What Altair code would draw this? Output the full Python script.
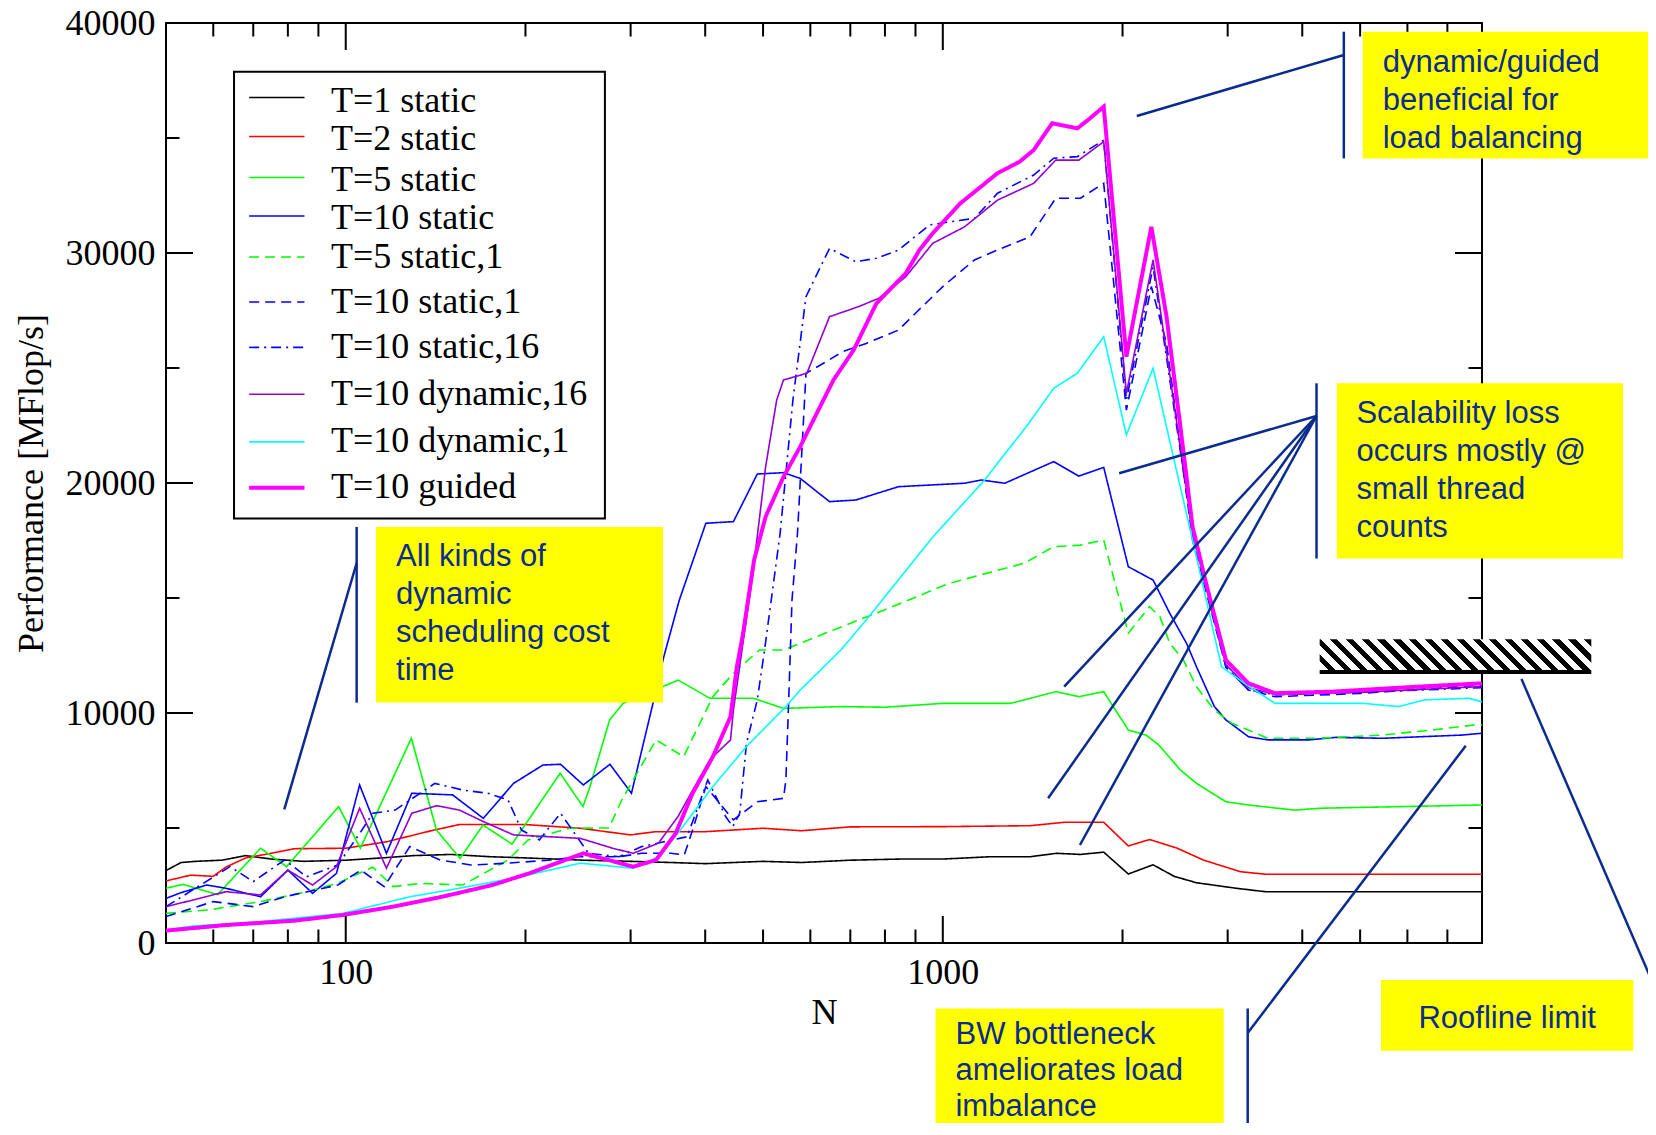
import altair as alt
import pandas as pd

# ---------------- data ----------------
SERIES = ["T=1 static", "T=2 static", "T=5 static", "T=10 static", "T=5 static,1",
          "T=10 static,1", "T=10 static,16", "T=10 dynamic,16", "T=10 dynamic,1", "T=10 guided"]
COLORS = ["#000000", "#ff0000", "#00ff00", "#0000ff", "#00ff00",
          "#0000ff", "#0000ff", "#9400d3", "#00ffff", "#ff00ff"]
DASHES = [[1, 0], [1, 0], [1, 0], [1, 0], [10, 6], [10, 6], [10, 5, 2, 5], [1, 0], [1, 0], [1, 0]]
THICK = "T=10 guided"

n_t1 = [50, 53, 56, 62, 68, 75, 85, 100, 115, 130, 150, 175, 200, 250, 300, 350, 400, 500, 580, 700,
        850, 1000, 1200, 1400, 1550, 1700, 1860, 2045, 2250, 2440, 2660, 3100, 3470, 8000]
p_t1 = [3150, 3500, 3550, 3600, 3800, 3650, 3550, 3600, 3700, 3800, 3850, 3750, 3700, 3600, 3550, 3500, 3450, 3550, 3500, 3600,
        3650, 3650, 3750, 3750, 3900, 3850, 3950, 3000, 3400, 2900, 2620, 2380, 2230, 2230]

n_t2 = [50, 55, 60, 63, 68, 75, 82, 100, 117, 140, 155, 175, 200, 247, 300, 330, 400, 500, 580, 700,
        1000, 1400, 1600, 1860, 2045, 2220, 2470, 2730, 3150, 3470, 8000]
p_t2 = [2700, 2950, 2900, 3300, 3700, 3900, 4100, 4120, 4400, 4900, 5150, 5150, 5150, 4990, 4700, 4840, 4840, 4990, 4880, 5050,
        5060, 5100, 5250, 5250, 4220, 4500, 4120, 3610, 3100, 2990, 2990]

n_t5 = [50, 53.4, 61, 72, 79.6, 97.3, 105.8, 128.8, 141.9, 155.4, 169.8, 189.9, 228.6, 249.7, 256.5, 276.7, 291.5, 360.5, 407, 482,
        541, 675, 800, 1000, 1300, 1546, 1690, 1860, 2045, 2190, 2300, 2500, 2660, 2980, 3250, 3880, 4300, 7000, 8000]
p_t5 = [2380, 2550, 2100, 4120, 3320, 5930, 4120, 8900, 4910, 3680, 5130, 4300, 7380, 5930, 6800, 9700, 10420, 11430, 10640, 10640,
        10200, 10280, 10250, 10420, 10420, 10930, 10710, 10930, 9260, 9040, 8610, 7520, 6940, 6140, 6000, 5780, 5860, 5970, 6000]

n_t10 = [50, 53, 58.5, 63, 72, 80, 88, 96.5, 105.5, 117, 129, 151, 170, 191, 214, 229, 250, 277, 301, 328,
         341, 362, 401, 446, 489, 541, 577, 646, 715, 843, 1088, 1160, 1270, 1534, 1690, 1860, 2045, 2250, 2280, 2400,
         2560, 2660, 2850, 2980, 3250, 3500, 4100, 4550, 5450, 7400, 8000]
p_t10 = [1940, 2190, 2520, 2380, 2010, 3170, 2160, 3030, 6870, 3900, 6510, 6440, 5420, 6940, 7740, 7770, 6870, 7770, 6510, 10560,
         12450, 14910, 18250, 18320, 20390, 20450, 20200, 19190, 19260, 19840, 19990, 20130, 19990, 20930, 20300, 20680, 16360, 15780, 15490, 14330,
         13030, 12010, 10280, 9700, 8970, 8830, 8830, 8940, 8900, 9040, 9120]

n_t5s1 = [50, 59, 72, 86, 97, 111, 120, 133, 157, 187, 202, 237, 276, 290, 331, 368, 412, 446, 493, 541,
          656, 798, 1026, 1368, 1534, 1700, 1860, 2045, 2220, 2310, 2400, 2530, 2660, 2850, 3050, 3250, 3500, 4230, 5450, 6600,
          7770, 8000]
p_t5s1 = [1290, 1440, 1800, 2230, 2600, 3300, 2450, 2590, 2520, 3610, 4480, 4990, 5000, 6220, 8830, 8100, 10710, 11730, 12740, 12740,
          13610, 14480, 15640, 16510, 17230, 17300, 17520, 13470, 14620, 14190, 13030, 12300, 11140, 10130, 9550, 9260, 8900, 8900, 9040, 9260,
          9480, 9480]

n_t10s1 = [50, 60, 70, 79, 97, 106, 116, 128, 144, 162, 187, 221, 245, 287, 313, 350, 369, 381, 401, 446,
           489, 541, 546, 552, 559, 571, 590, 624, 680, 744, 843, 900, 1000, 1130, 1235, 1400, 1546, 1700, 1860, 2030,
           2235, 2370, 2620, 2980, 3250, 3600, 5000, 8000]
p_t10s1 = [1150, 1800, 1580, 2010, 2520, 3170, 2450, 4190, 3610, 3390, 3470, 3610, 3750, 3750, 3900, 3900, 3830, 4910, 6800, 5350,
           6140, 6290, 7090, 10570, 14910, 17810, 24770, 25130, 25710, 26070, 26650, 27380, 28540, 29700, 30130, 30710, 32380, 32380, 33030, 23170,
           28540, 26070, 17520, 12000, 11000, 10710, 10850, 11220]

n_t10s16 = [50, 64, 70, 79, 86, 97, 106, 111, 121, 141, 157, 173, 187, 197, 211, 229, 255, 287, 313, 373,
            404, 433, 445, 457, 469, 489, 502, 516, 534, 561, 590, 646, 715, 774, 843, 950, 1130, 1235, 1420, 1534,
            1680, 1860, 2030, 2250, 2620, 2980, 3250, 3600, 5000, 8000]
p_t10s16 = [1580, 3320, 2670, 3610, 2880, 3390, 4840, 5640, 5780, 6940, 6650, 6510, 6220, 4910, 4480, 5640, 3900, 3750, 4190, 4620,
            7090, 5490, 5060, 5640, 8680, 10570, 12600, 14910, 17810, 23610, 28100, 30200, 29620, 29770, 30130, 31220, 31510, 32600, 33390, 34120,
            34190, 34910, 23610, 29400, 17800, 12000, 11000, 10800, 10900, 11100]

n_t10d16 = [50, 55.5, 63, 72, 80, 88, 96.5, 105.5, 117, 129, 142, 155, 170, 191, 247, 280, 303, 334, 360, 407,
            441, 446, 480, 505, 527, 541, 592, 646, 723, 781, 867, 962, 1088, 1235, 1420, 1546, 1690, 1860, 2030, 2250,
            2620, 2980, 3250, 3600, 5000, 8000]
p_t10d16 = [1580, 1870, 2230, 2090, 3170, 2520, 3320, 5860, 3250, 5640, 5970, 5780, 5280, 4700, 4550, 4120, 3900, 4340, 5490, 7960,
            8830, 10130, 15930, 20710, 23610, 24480, 24770, 27230, 27670, 28030, 28970, 30420, 31140, 32300, 33030, 34040, 34040, 34840, 23900, 29700,
            17900, 12100, 11100, 10800, 10900, 11150]

n_t10d1 = [50, 55.5, 72, 99, 128, 155, 196, 247, 303, 334, 360, 412, 469, 546, 577, 675, 744, 962, 1175, 1235,
           1380, 1534, 1680, 1860, 2030, 2250, 2440, 2620, 2930, 3200, 3600, 5050, 5800, 6400, 7600, 8000]
p_t10d1 = [560, 740, 930, 1290, 2010, 2380, 2880, 3470, 3250, 3750, 4770, 6800, 8540, 10280, 11000, 12740, 14040, 17650, 20130, 20860,
           22450, 24120, 24770, 26360, 22090, 24990, 21000, 17520, 12010, 11290, 10420, 10420, 10280, 10570, 10640, 10490]

n_t10g = [50, 63, 82, 99, 120, 145, 176, 203, 250, 303, 331, 357, 381, 412, 441, 452, 463, 483, 505, 541,
          577, 615, 656, 709, 774, 867, 914, 962, 1070, 1235, 1345, 1420, 1525, 1680, 1750, 1860, 2030, 2235, 2370, 2500,
          2620, 2760, 2980, 3250, 3600, 4500, 6200, 8000]
p_t10g = [540, 780, 970, 1220, 1580, 2010, 2520, 3030, 3900, 3320, 3610, 4770, 6510, 8100, 9840, 12010, 13470, 16650, 18540, 20270,
          21580, 23030, 24480, 25780, 27810, 29120, 30130, 30860, 32160, 33470, 33970, 34480, 35640, 35420, 35780, 36360, 25490, 31140, 27230, 22450,
          18100, 15640, 12300, 11290, 10860, 10930, 11140, 11290]

ALL = [(SERIES[0], n_t1, p_t1), (SERIES[1], n_t2, p_t2), (SERIES[2], n_t5, p_t5), (SERIES[3], n_t10, p_t10),
       (SERIES[4], n_t5s1, p_t5s1), (SERIES[5], n_t10s1, p_t10s1), (SERIES[6], n_t10s16, p_t10s16),
       (SERIES[7], n_t10d16, p_t10d16), (SERIES[8], n_t10d1, p_t10d1), (SERIES[9], n_t10g, p_t10g)]

X_LABELS = [100, 1000]
X_MINOR = [60, 70, 80, 90, 200, 300, 400, 500, 600, 700, 800, 900, 2000, 3000, 4000, 5000, 6000, 7000]
Y_LABELS = [0, 10000, 20000, 30000, 40000]
Y_MAJOR = [10000, 20000, 30000]
Y_MINOR = [5000, 15000, 25000, 35000]

# annotations (in data units: N, MFlop/s)
ANN_TEXT = ["dynamic/guided\nbeneficial for\nload balancing",
            "Scalability loss\noccurs mostly @\nsmall thread\ncounts",
            "All kinds of\ndynamic\nscheduling cost\ntime"]
ANN_X = [5455, 4929, 121.4]
ANN_Y = [37848, 22596, 16383]
BW_TEXT = ["BW bottleneck\nameliorates load\nimbalance"]
BW_X = [1050]
BW_Y = [-4391]
ROOF_TEXT = ["Roofline limit"]
ROOF_X = [8816]
ROOF_Y = [-3717]

BOX_X1 = [5051, 4569, 112.4, 972.6, 5420]
BOX_X2 = [15306, 13780, 340, 2955, 14340]
BOX_Y1 = [34113, 16717, 10456, -8565, -4687]
BOX_Y2 = [39622, 24335, 18087, -2848, -1609]

SEG_X1 = [4695, 4695, 4226, 4226, 4226, 4226, 4226, 104.3, 104.3, 3241, 3241, 15431, 15431]
SEG_Y1 = [34113, 38609, 16717, 22913, 22913, 22913, 22913, 10448, 16522, -8565, -3913, -4696, -1696]
SEG_X2 = [4695, 2113, 4226, 1974, 1597, 1501, 1697, 104.3, 78.9, 3241, 7515, 15431, 9316]
SEG_Y2 = [39622, 35956, 24335, 20422, 11143, 6291, 4261, 18087, 5813, -2848, 8578, -1478, 11478]

HATCH_X = [4278, 12193]
HATCH_Y = [11870, 13204]
BAR_Y = [11696, 11870]

LEG_SYM_Y = [36761, 35065, 33283, 31609, 29826, 27870, 25896, 23856, 21787, 19796]
LEG_TXT_Y = [36143, 34465, 32674, 31022, 29369, 27413, 25435, 23409, 21335, 19330]
LEG_SYM_X = [68.9, 85.3]
LEG_TXT_X = 94.5
LEG_BOX_X = [65.0, 271.7]
LEG_BOX_Y = [18457, 37878]

# ---------------- build ----------------
for name, ns, ps in ALL:
    assert len(ns) == len(ps), name

rows = []
for name, ns, ps in ALL:
    for n, p in zip(ns, ps):
        rows.append({"series": name, "N": n, "P": p})
df = pd.DataFrame(rows)

W, H = 1316, 920
SERIF = "Liberation Serif"
SANS = "Liberation Sans"
NAVY = "#0b2c8e"

x_scale = alt.Scale(type="log", domain=[50, 8000], nice=False)
y_scale = alt.Scale(domain=[0, 40000], nice=False, zero=False)

x_axis = alt.Axis(values=X_LABELS, format="d", ticks=False, domain=False, grid=False,
                  labelFont=SERIF, labelFontSize=36, labelColor="black", labelPadding=12,
                  labelFlush=False, title="N", titleFont=SERIF, titleFontSize=36,
                  titleFontWeight="normal", titleColor="black", titleX=W / 2, titleY=69,
                  titleBaseline="middle", titleAlign="center")
y_axis = alt.Axis(values=Y_LABELS, format="d", ticks=False, domain=False, grid=False,
                  labelFont=SERIF, labelFontSize=36, labelColor="black", labelPadding=11,
                  labelFlush=False, title="Performance [MFlop/s]", titleFont=SERIF, titleFontSize=36,
                  titleFontWeight="normal", titleColor="black", titleX=-135, titleY=H / 2,
                  titleAngle=270, titleBaseline="middle", titleAlign="center")


def X(f):
    return alt.X(f, type="quantitative", scale=x_scale, axis=x_axis)


def Y(f):
    return alt.Y(f, type="quantitative", scale=y_scale, axis=y_axis)


color_enc = alt.Color("series:N", scale=alt.Scale(domain=SERIES, range=COLORS), legend=None)
dash_enc = alt.StrokeDash("series:N", scale=alt.Scale(domain=SERIES, range=DASHES), legend=None)

thin_filter = alt.datum.series != THICK
thick_filter = alt.datum.series == THICK

lines_thin = alt.Chart(df).transform_filter(thin_filter).mark_line(clip=True, strokeWidth=1.6).encode(
    x=X("N"), y=Y("P"), color=color_enc, strokeDash=dash_enc)
lines_thick = alt.Chart(df).transform_filter(thick_filter).mark_line(clip=True, strokeWidth=4).encode(
    x=X("N"), y=Y("P"), color=color_enc, strokeDash=dash_enc)

# inward ticks on all four sides
MAJ, MIN = 27, 13.5


def xticks(vals, length, top):
    c = alt.Chart(pd.DataFrame({"v": vals})).mark_rule(color="black", strokeWidth=2)
    if top:
        return c.encode(x=X("v"), y=alt.value(0), y2=alt.value(length))
    return c.encode(x=X("v"), y=alt.value(H), y2=alt.value(H - length))


def yticks(vals, length, right):
    c = alt.Chart(pd.DataFrame({"v": vals})).mark_rule(color="black", strokeWidth=2)
    if right:
        return c.encode(y=Y("v"), x=alt.value(W), x2=alt.value(W - length))
    return c.encode(y=Y("v"), x=alt.value(0), x2=alt.value(length))


ticks = [xticks(X_LABELS, MAJ, False), xticks(X_MINOR, MIN, False),
         xticks(X_LABELS, MAJ, True), xticks(X_MINOR, MIN, True),
         yticks(Y_MAJOR, MAJ, False), yticks(Y_MINOR, MIN, False),
         yticks(Y_MAJOR, MAJ, True), yticks(Y_MINOR, MIN, True)]

# legend (drawn as layers)
leg_df = pd.DataFrame({"series": SERIES, "ly": LEG_SYM_Y, "ty": LEG_TXT_Y,
                       "lx1": [LEG_SYM_X[0]] * 10, "lx2": [LEG_SYM_X[1]] * 10,
                       "lt": [LEG_TXT_X] * 10})
leg_box = alt.Chart(pd.DataFrame({"x": [LEG_BOX_X[0]], "x2": [LEG_BOX_X[1]],
                                  "y": [LEG_BOX_Y[0]], "y2": [LEG_BOX_Y[1]]})).mark_rect(
    fill="white", stroke="black", strokeWidth=2).encode(x=X("x"), x2="x2", y=Y("y"), y2="y2")
leg_sym_thin = alt.Chart(leg_df).transform_filter(thin_filter).mark_rule(strokeWidth=1.6).encode(
    x=X("lx1"), x2="lx2", y=Y("ly"), color=color_enc, strokeDash=dash_enc)
leg_sym_thick = alt.Chart(leg_df).transform_filter(thick_filter).mark_rule(strokeWidth=4).encode(
    x=X("lx1"), x2="lx2", y=Y("ly"), color=color_enc, strokeDash=dash_enc)
leg_txt = alt.Chart(leg_df).mark_text(align="left", baseline="alphabetic", font=SERIF, fontSize=36,
                                      color="black").encode(x=X("lt"), y=Y("ty"), text="series:N")

# annotations
boxes = alt.Chart(pd.DataFrame({"x": BOX_X1, "x2": BOX_X2, "y": BOX_Y1, "y2": BOX_Y2})).mark_rect(
    fill="#ffff00").encode(x=X("x"), x2="x2", y=Y("y"), y2="y2")
texts = alt.Chart(pd.DataFrame({"x": ANN_X, "y": ANN_Y, "t": ANN_TEXT})).mark_text(
    align="left", baseline="alphabetic", lineBreak="\n", lineHeight=38, font=SANS, fontSize=31,
    color=NAVY).encode(x=X("x"), y=Y("y"), text="t:N")
bw_txt = alt.Chart(pd.DataFrame({"x": BW_X, "y": BW_Y, "t": BW_TEXT})).mark_text(
    align="left", baseline="alphabetic", lineBreak="\n", lineHeight=36, font=SANS, fontSize=31,
    color=NAVY).encode(x=X("x"), y=Y("y"), text="t:N")
roof_txt = alt.Chart(pd.DataFrame({"x": ROOF_X, "y": ROOF_Y, "t": ROOF_TEXT})).mark_text(
    align="center", baseline="alphabetic", font=SANS, fontSize=31, color=NAVY).encode(
    x=X("x"), y=Y("y"), text="t:N")
segs = alt.Chart(pd.DataFrame({"x": SEG_X1, "y": SEG_Y1, "x2": SEG_X2, "y2": SEG_Y2})).mark_rule(
    color=NAVY, strokeWidth=2.5).encode(x=X("x"), x2="x2", y=Y("y"), y2="y2")

# hatched roofline bar
hr = 30.7 / 271.7
hL = (1 + hr) / (1 + hr * hr)
stops = []
NSTRIPE = 19
for k in range(NSTRIPE):
    a = k / NSTRIPE
    b = (k + 0.55) / NSTRIPE
    c = (k + 1) / NSTRIPE
    stops += [{"offset": a, "color": "white"}, {"offset": b, "color": "white"},
              {"offset": b, "color": "black"}, {"offset": c, "color": "black"}]
hatch_fill = {"gradient": "linear", "x1": 0, "y1": 1, "x2": hL, "y2": 1 - hr * hL, "stops": stops}
hatch = alt.Chart(pd.DataFrame({"x": [HATCH_X[0]], "x2": [HATCH_X[1]], "y": [HATCH_Y[0]],
                                "y2": [HATCH_Y[1]]})).mark_rect(fill=hatch_fill, strokeWidth=0).encode(
    x=X("x"), x2="x2", y=Y("y"), y2="y2")
bar = alt.Chart(pd.DataFrame({"x": [HATCH_X[0]], "x2": [HATCH_X[1]], "y": [BAR_Y[0]],
                              "y2": [BAR_Y[1]]})).mark_rect(fill="black").encode(
    x=X("x"), x2="x2", y=Y("y"), y2="y2")

chart = alt.layer(lines_thin, lines_thick, *ticks, leg_box, leg_sym_thin, leg_sym_thick, leg_txt,
                  boxes, texts, bw_txt, roof_txt, segs, hatch, bar).properties(
    width=W, height=H,
    padding={"left": 158, "top": 15, "right": 166, "bottom": 180},
    autosize=alt.AutoSizeParams(type="none"),
    background="white",
).configure_view(stroke="black", strokeWidth=2)

chart.save("out.html", embed_options={"renderer": "svg", "actions": False})
